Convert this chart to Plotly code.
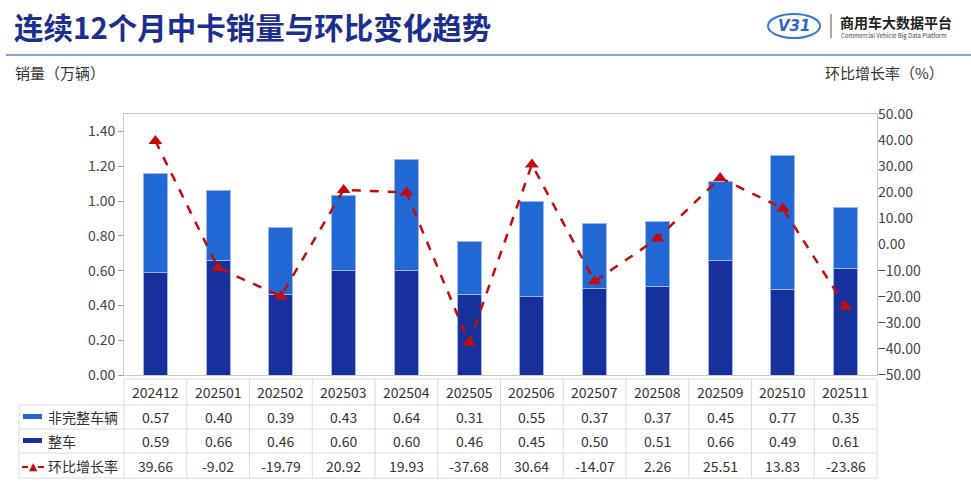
import plotly.graph_objects as go

months = ["202412", "202501", "202502", "202503", "202504", "202505",
          "202506", "202507", "202508", "202509", "202510", "202511"]
incomplete = [0.57, 0.40, 0.39, 0.43, 0.64, 0.31, 0.55, 0.37, 0.37, 0.45, 0.77, 0.35]
complete = [0.59, 0.66, 0.46, 0.60, 0.60, 0.46, 0.45, 0.50, 0.51, 0.66, 0.49, 0.61]
growth = [39.66, -9.02, -19.79, 20.92, 19.93, -37.68, 30.64, -14.07, 2.26, 25.51, 13.83, -23.86]

name_inc = "非完整车辆"
name_com = "整车"
name_gr = "环比增长率"

DARK = "#16309c"
LIGHT = "#2168d4"
RED = "#c40c0c"
FONT = "Noto Sans CJK SC"

fig = go.Figure()
fig.add_trace(go.Bar(x=months, y=complete, name=name_com, marker=dict(color=DARK, line=dict(color="#9db4ec", width=1)), width=0.38))
fig.add_trace(go.Bar(x=months, y=incomplete, name=name_inc, marker=dict(color=LIGHT, line=dict(color="#9db4ec", width=1)), width=0.38))
fig.add_trace(go.Scatter(x=months, y=growth, name=name_gr, yaxis="y2", mode="lines+markers",
                         line=dict(color=RED, width=2.5, dash="dash"),
                         marker=dict(symbol="triangle-up", size=12, color=RED)))

H_PLOT = 261.0
def py(p):
    return (375 - p) / H_PLOT
def px(p):
    return (p - 124) / 753.0

shapes = []
ann = []
grid = "#dcdcdc"
for p, x0 in [(379, 0), (405, px(19)), (429, px(19)), (453, px(19)), (478, px(19))]:
    shapes.append(dict(type="line", xref="paper", yref="paper", x0=x0, x1=1, y0=py(p), y1=py(p), line=dict(color=grid, width=1)))
shapes.append(dict(type="line", xref="paper", yref="paper", x0=px(19), x1=px(19), y0=py(405), y1=py(478), line=dict(color=grid, width=1)))
for i in range(len(months) + 1):
    xv = i / float(len(months))
    shapes.append(dict(type="line", xref="paper", yref="paper", x0=xv, x1=xv, y0=py(379), y1=py(478), line=dict(color=grid, width=1)))

rows = [(py(392), months), (py(417), ["%.2f" % v for v in incomplete]),
        (py(441), ["%.2f" % v for v in complete]), (py(466), ["%.2f" % v for v in growth])]
for yv, vals in rows:
    for i, v in enumerate(vals):
        ann.append(dict(x=(i + 0.5) / len(months), xref="paper", y=yv, yref="paper", text=v, showarrow=False,
                        xanchor="center", yanchor="middle",
                        font=dict(size=14, color="#333", family=FONT)))

labels = [(py(417), name_inc), (py(441), name_com), (py(466), name_gr)]
for yv, t in labels:
    ann.append(dict(x=px(46), xref="paper", y=yv, yref="paper", text=t, showarrow=False, xanchor="left", yanchor="middle",
                    font=dict(size=14, color="#333", family=FONT)))
shapes.append(dict(type="rect", xref="paper", yref="paper", x0=px(23), x1=px(42), y0=py(419), y1=py(414), fillcolor=LIGHT, line=dict(width=0)))
shapes.append(dict(type="rect", xref="paper", yref="paper", x0=px(23), x1=px(42), y0=py(443), y1=py(438), fillcolor=DARK, line=dict(width=0)))
shapes.append(dict(type="line", xref="paper", yref="paper", x0=px(22), x1=px(28), y0=py(467), y1=py(467), line=dict(color=RED, width=2)))
shapes.append(dict(type="line", xref="paper", yref="paper", x0=px(38), x1=px(44), y0=py(467), y1=py(467), line=dict(color=RED, width=2)))
ann.append(dict(x=px(33), xref="paper", y=py(466), yref="paper", text="▲", showarrow=False, xanchor="center", yanchor="middle",
                font=dict(size=11, color=RED, family="DejaVu Sans")))

shapes.append(dict(type="line", xref="paper", yref="paper", x0=px(6), x1=px(971), y0=py(55), y1=py(55), line=dict(color="#8ea2d6", width=2)))

ann.append(dict(x=px(12), xref="paper", y=py(26), yref="paper", text="<b>连续12个月中卡销量与环比变化趋势</b>", showarrow=False,
                xanchor="left", yanchor="middle", font=dict(size=29.5, color="#1c2f8e", family=FONT)))
ann.append(dict(x=px(13), xref="paper", y=py(72), yref="paper", text="销量（万辆）", showarrow=False,
                xanchor="left", yanchor="middle", font=dict(size=15, color="#333", family=FONT)))
ann.append(dict(x=px(946), xref="paper", y=py(72), yref="paper", text="环比增长率（%）", showarrow=False,
                xanchor="right", yanchor="middle", font=dict(size=15, color="#333", family=FONT)))

# logo
shapes.append(dict(type="circle", xref="paper", yref="paper", x0=px(768), x1=px(820), y0=py(38), y1=py(14), line=dict(color="#3a78d0", width=2)))
ann.append(dict(x=px(794), xref="paper", y=py(26), yref="paper", text="<b><i>V31</i></b>", showarrow=False,
                xanchor="center", yanchor="middle", font=dict(size=15, color="#2a66c8", family="DejaVu Sans")))
shapes.append(dict(type="line", xref="paper", yref="paper", x0=px(831), x1=px(831), y0=py(14), y1=py(38), line=dict(color="#555", width=1)))
ann.append(dict(x=px(838), xref="paper", y=py(22), yref="paper", text="<b>商用车大数据平台</b>", showarrow=False,
                xanchor="left", yanchor="middle", font=dict(size=14, color="#222", family=FONT)))
ann.append(dict(x=px(839), xref="paper", y=py(35), yref="paper", text="Commercial Vehicle Big Data Platform", showarrow=False,
                xanchor="left", yanchor="middle", font=dict(size=6, color="#444", family=FONT)))

fig.update_layout(
    width=971, height=486,
    margin=dict(l=124, r=94, t=114, b=111),
    barmode="stack",
    showlegend=False,
    plot_bgcolor="white", paper_bgcolor="white",
    font=dict(family=FONT, size=13, color="#444"),
    xaxis=dict(type="category", range=[-0.5, len(months) - 0.5], showticklabels=False, showgrid=False,
               showline=True, linecolor="#c8c8c8", mirror=True, ticks=""),
    yaxis=dict(range=[0, 1.5], tickvals=[0, 0.2, 0.4, 0.6, 0.8, 1.0, 1.2, 1.4], tickformat=".2f",
               showgrid=False, showline=True, linecolor="#c8c8c8", mirror=True, ticks="outside",
               ticklen=5, tickcolor="#999", tickfont=dict(size=14, color="#444"), zeroline=False),
    yaxis2=dict(range=[-50, 50], dtick=10, tickformat=".2f", overlaying="y", side="right",
                showgrid=False, zeroline=False, showline=False, tickfont=dict(size=14, color="#444"), ticks=""),
    shapes=shapes,
    annotations=ann,
)

fig.write_html("out.html", config={"displayModeBar": False},
               post_script="document.body.style.margin='0';document.body.style.overflow='hidden';")
